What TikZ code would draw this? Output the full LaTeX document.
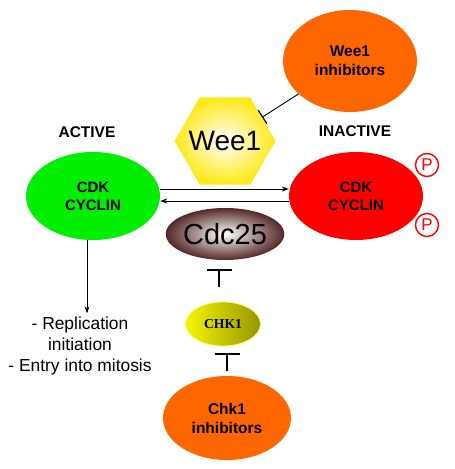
\documentclass[tikz,border=0pt]{standalone}
\usepackage{fontspec}
\setmainfont{Liberation Sans}
\newfontfamily\chkfont{Liberation Serif}
\usepackage{tikz}
\usetikzlibrary{shapes.geometric,arrows.meta,calc}

\definecolor{actgreen}{RGB}{0,238,0}
\definecolor{inactred}{RGB}{255,0,0}
\definecolor{inhorange}{RGB}{255,102,0}
\definecolor{weeyellow}{RGB}{255,232,20}
\definecolor{cdcbrown}{RGB}{85,40,40}
\definecolor{chkyellow}{RGB}{245,245,0}
\definecolor{chkolive}{RGB}{150,150,0}

\begin{document}
\begin{tikzpicture}[x=1pt,y=1pt,
  cplx/.style={ellipse,minimum width=134pt,minimum height=88pt,inner sep=0pt,align=center,font=\fontsize{15}{18}\selectfont\bfseries},
  inh/.style={ellipse,fill=inhorange,inner sep=0pt,align=center,font=\fontsize{15.5}{19}\selectfont\bfseries},
  state/.style={font=\fontsize{15.5}{18}\selectfont\bfseries},
  phos/.style={circle,draw=inactred,line width=1.4pt,minimum size=23pt,inner sep=0pt,text=inactred,font=\fontsize{17}{17}\selectfont},
  act/.style={-{Stealth[length=7pt,width=5pt]},line width=0.9pt},
  blk/.style={-{Bar[width=25pt,line width=2pt]},line width=1.1pt}
]
  \useasboundingbox (0,0) rectangle (455,-469);
  % complexes
  \node[cplx,fill=actgreen] (active) at (93,-196) {CDK\\CYCLIN};
  \node[cplx,fill=inactred] (inactive) at (356,-196) {CDK\\CYCLIN};
  \node[state] (actlbl) at (87,-132) {ACTIVE};
  \node[state] (inactlbl) at (355,-131) {INACTIVE};
  \node[phos] (p1) at (427,-165) {P};
  \node[phos] (p2) at (427,-225) {P};
  % regulators
  \node[regular polygon,regular polygon sides=6,minimum size=101pt,inner sep=0pt,
        inner color=white,outer color=weeyellow,font=\fontsize{28}{28}\selectfont] (wee1) at (225,-141) {\makebox[0pt]{Wee1}};
  \node[ellipse,minimum width=106pt,minimum height=52pt,inner sep=0pt,
        inner color=white,outer color=cdcbrown,font=\fontsize{29}{29}\selectfont] (cdc25) at (225,-234) {Cdc25};
  \node[ellipse,minimum width=75pt,minimum height=44pt,inner sep=0pt,draw=yellow!60,line width=0.8pt,
        left color=chkyellow,right color=chkolive,font=\chkfont\fontsize{13.6}{14}\selectfont\bfseries] (chk1) at (223,-324) {CHK1};
  \node[inh,minimum width=134pt,minimum height=102pt] (weeinh) at (350,-61) {Wee1\\inhibitors};
  \node[inh,minimum width=128pt,minimum height=84pt] (chkinh) at (227,-418) {Chk1\\inhibitors};
  \node[align=center,font=\fontsize{17.4}{21}\selectfont] (effects) at (80,-346) {- Replication\\initiation\\- Entry into mitosis};
  % connectors
  \draw[act] ([yshift=7pt]active.east) -- ([yshift=7pt]inactive.west);
  \draw[act] ([yshift=-5pt]inactive.west) -- ([yshift=-5pt]active.east);
  \draw[act] ([xshift=-6pt]active.south) -- ([xshift=-6pt]active.south |- effects.north);
  \draw[-{Bar[width=16pt,line width=1.2pt]},line width=0.9pt] (weeinh) -- (wee1);
  \draw[blk,shorten <=15pt,shorten >=9pt] ([xshift=-4pt]chk1.north) -- ([xshift=-4pt]chk1.north |- cdc25.south);
  \draw[blk,shorten <=5pt,shorten >=7pt] (chkinh.north) -- (chkinh.north |- chk1.south);
\end{tikzpicture}
\end{document}
